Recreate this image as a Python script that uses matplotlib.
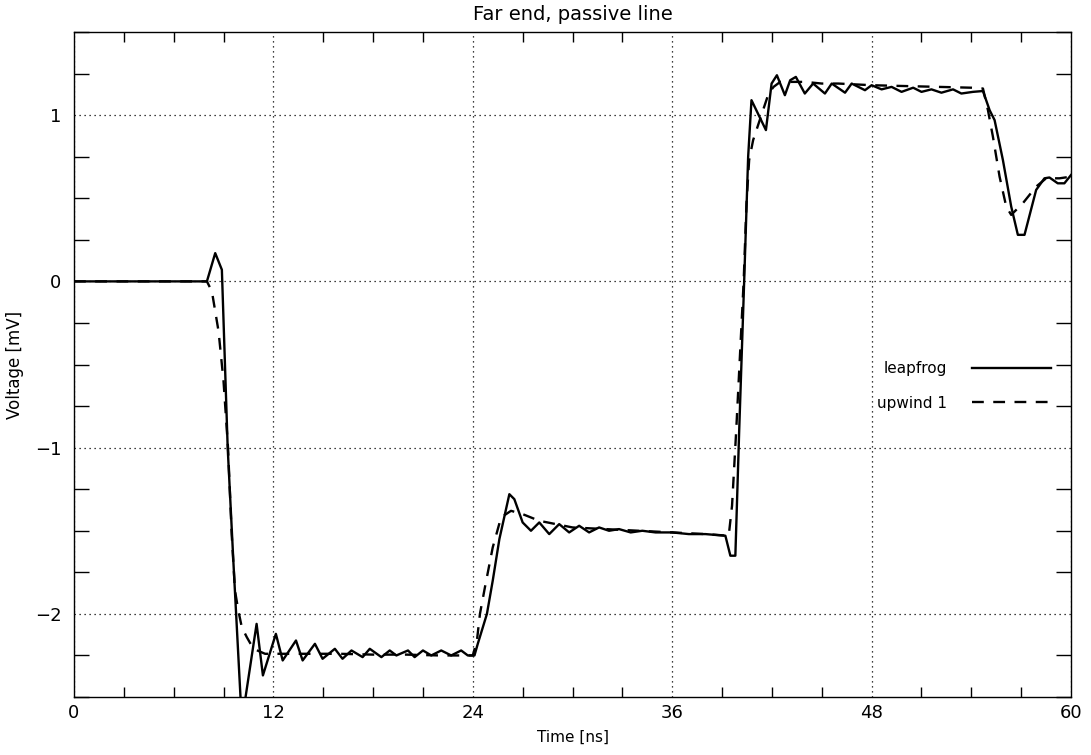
import matplotlib.pyplot as plt
from matplotlib.ticker import MultipleLocator

# leapfrog scheme, far-end voltage
t_leap = [0.0, 8.0, 8.5, 8.9, 9.25, 9.6, 10.1, 10.99, 11.37, 12.15, 12.56,
          13.36, 13.76, 14.5, 14.96, 15.7, 16.16, 16.7, 17.37, 17.8, 18.5,
          19.0, 19.4, 20.1, 20.5, 21.0, 21.5, 22.1, 22.7, 23.3, 23.7, 24.1,
          24.3, 24.85, 25.2, 25.6, 26.2, 26.5, 27.0, 27.5, 28.0, 28.6, 29.2,
          29.8, 30.4, 31.0, 31.6, 32.2, 32.8, 33.5, 34.2, 35.0, 36.0, 37.0,
          38.0, 39.2, 39.5, 39.8, 40.03, 40.33, 40.57, 40.77, 41.64, 41.98,
          42.3, 42.78, 43.1, 43.44, 43.98, 44.48, 45.19, 45.6, 46.4, 46.8,
          47.6, 48.0, 48.6, 49.2, 49.8, 50.5, 51.0, 51.6, 52.2, 52.9, 53.4,
          54.1, 54.7, 55.1, 55.4, 55.9, 56.4, 56.8, 57.2, 57.9, 58.4, 58.7,
          59.2, 59.6, 60.0]
v_leap = [0.0, 0.0, 0.17, 0.07, -1.0, -1.7, -2.65, -2.06, -2.37, -2.12, -2.28,
          -2.16, -2.28, -2.18, -2.27, -2.21, -2.27, -2.22, -2.26, -2.21, -2.26,
          -2.22, -2.25, -2.22, -2.26, -2.22, -2.25, -2.22, -2.25, -2.22, -2.25, -2.25,
          -2.18, -2.0, -1.80, -1.55, -1.28, -1.31, -1.45, -1.50, -1.45, -1.52, -1.46,
          -1.51, -1.47, -1.51, -1.48, -1.50, -1.49, -1.51, -1.50, -1.51, -1.51, -1.52,
          -1.52, -1.53, -1.65, -1.65, -0.9, 0.0, 0.75, 1.09, 0.91, 1.19,
          1.24, 1.12, 1.21, 1.23, 1.13, 1.19, 1.13, 1.19, 1.135, 1.19,
          1.15, 1.18, 1.155, 1.17, 1.14, 1.165, 1.14, 1.155, 1.135, 1.155, 1.13,
          1.14, 1.145, 1.03, 0.97, 0.73, 0.45, 0.28, 0.28, 0.55, 0.62, 0.625,
          0.59, 0.59, 0.64]

# first-order upwind scheme
t_upw = [0.0, 8.0, 8.3, 8.7, 9.0, 9.27, 9.49, 9.69, 9.89, 10.1, 10.4, 10.8,
         11.5, 12.5, 14.0, 16.0, 18.0, 20.0, 22.0, 24.0, 24.25, 24.43, 24.73,
         25.2, 25.7, 26.3, 27.0, 28.0, 29.0, 30.0, 32.0, 34.0, 36.0, 38.0,
         39.4, 39.6, 39.85, 40.3, 40.47, 40.63, 40.87, 41.4, 41.8, 42.1, 42.5,
         43.0, 44.0, 45.0, 46.0, 47.0, 48.0, 50.0, 52.0, 54.0, 54.7, 55.0,
         55.3, 55.7, 56.1, 56.4, 57.1, 57.9, 58.5, 59.3, 60.0]
v_upw = [0.0, 0.0, -0.06, -0.3, -0.6, -1.0, -1.52, -1.86, -1.98, -2.08, -2.14, -2.21,
         -2.24, -2.24, -2.24, -2.24, -2.245, -2.245, -2.25, -2.25, -2.16, -2.0, -1.84,
         -1.6, -1.42, -1.38, -1.40, -1.44, -1.46, -1.48, -1.49, -1.50, -1.51, -1.52,
         -1.53, -1.35, -0.9, 0.0, 0.47, 0.73, 0.85, 1.01, 1.13, 1.17, 1.20,
         1.20, 1.20, 1.19, 1.19, 1.185, 1.18, 1.175, 1.17, 1.165, 1.16, 1.03,
         0.87, 0.63, 0.45, 0.40, 0.47, 0.57, 0.62, 0.62, 0.63]

fig = plt.figure(figsize=(10.91, 7.55), dpi=100)
ax = fig.add_axes([0.0678, 0.0768, 0.9139, 0.8808])

ax.plot(t_leap, v_leap, color='black', lw=1.7, label='leapfrog')
ax.plot(t_upw, v_upw, color='black', lw=1.7, linestyle=(0, (5, 4)),
        label='upwind 1')

ax.set_xlim(0, 60)
ax.set_ylim(-2.5, 1.5)
ax.xaxis.set_major_locator(MultipleLocator(12))
ax.xaxis.set_minor_locator(MultipleLocator(3))
ax.yaxis.set_major_locator(MultipleLocator(1))
ax.yaxis.set_minor_locator(MultipleLocator(0.25))
ax.set_yticks([-2, -1, 0, 1])
ax.set_yticklabels(['\u22122', '\u22121', '0', '1'])

ax.tick_params(which='both', direction='in', top=True, right=True,
               labelsize=13, width=1.0)
ax.tick_params(which='major', length=0)
ax.xaxis.set_tick_params(which='major', pad=5)
ax.yaxis.set_tick_params(which='major', pad=9)
ax.xaxis.set_tick_params(which='minor', length=7)
ax.yaxis.set_tick_params(which='minor', length=11)

ax.grid(which='major', color='black', linestyle=(0, (1, 3)), lw=0.9)
for s in ax.spines.values():
    s.set_linewidth(1.0)

ax.set_title('Far end, passive line', fontsize=14, pad=9)
ax.set_xlabel('Time [ns]', fontsize=11, labelpad=6)
ax.set_ylabel('Voltage [mV]', fontsize=12, labelpad=8)

ax.legend(loc='center right', bbox_to_anchor=(0.98, 0.468), frameon=False,
          markerfirst=False, fontsize=11, handlelength=5.2,
          handletextpad=1.6, labelspacing=1.3, borderpad=0, borderaxespad=0)

fig.savefig('out.png', dpi=100)
